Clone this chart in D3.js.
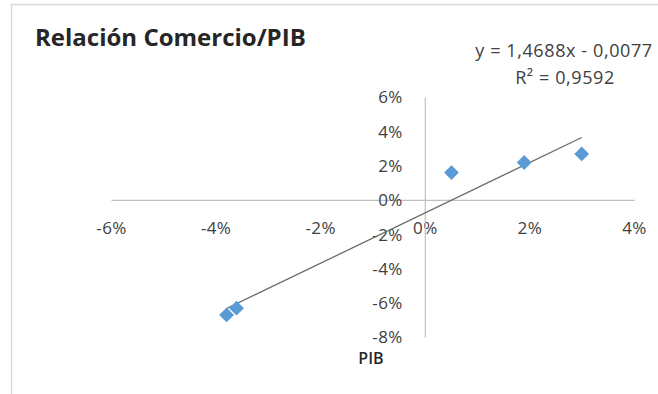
<!DOCTYPE html>
<html>
<head>
<meta charset="utf-8">
<script src="https://cdn.jsdelivr.net/npm/d3@7"></script>
<style>
  html, body { margin: 0; padding: 0; background: #fff; }
  svg { display: block; }
</style>
</head>
<body>
<svg id="chart" width="658" height="394"></svg>
<script>
// PIB growth (x) vs. trade growth (y)
const pib      = [-0.0379, -0.0360, 0.0051, 0.0190, 0.0300];
const comercio = [-0.0671, -0.0632, 0.0159, 0.0218, 0.0268];

// Linear trend as reported
const slope = 1.4688;
const intercept = -0.0077;
const r2 = 0.9592;

const xTicks = [-0.06, -0.04, -0.02, 0, 0.02, 0.04];
const yTicks = [-0.08, -0.06, -0.04, -0.02, 0, 0.02, 0.04, 0.06];

const title = "Relación Comercio/PIB";
const xTitle = "PIB";

const svg = d3.select("#chart");
const font = "'Open Sans', 'DejaVu Sans', sans-serif";

// chart area frame
svg.append("rect")
  .attr("x", 11.5).attr("y", 4.5)
  .attr("width", 700).attr("height", 450)
  .attr("fill", "#fff")
  .attr("stroke", "#d9d9d9").attr("stroke-width", 1.5);

const x = d3.scaleLinear().domain([-0.06, 0.04]).range([111, 634]);
const y = d3.scaleLinear().domain([-0.08, 0.06]).range([337, 97]);
// percent labels with a plain hyphen for negatives
const pct = v => `${Math.round(v * 100)}%`;

// axes crossing at zero
const xAxis = svg.append("g")
  .attr("transform", `translate(0,${y(0)})`)
  .call(d3.axisBottom(x).tickValues(xTicks).tickFormat(pct).tickSize(0).tickPadding(22));
const yAxis = svg.append("g")
  .attr("transform", `translate(${x(0)},0)`)
  .call(d3.axisLeft(y).tickValues(yTicks).tickFormat(pct).tickSize(0).tickPadding(22));

[xAxis, yAxis].forEach(g => {
  g.select(".domain").attr("stroke", "#bfbfbf").attr("stroke-width", 1.2);
  g.selectAll("text")
    .attr("font-family", font).attr("font-size", 17)
    .attr("letter-spacing", 0.4)
    .attr("fill", "#404040");
});
yAxis.selectAll("text").attr("dy", "0.35em");

// trendline across the data range
const xr = d3.extent(pib);
svg.append("line")
  .attr("x1", x(xr[0])).attr("y1", y(slope * xr[0] + intercept))
  .attr("x2", x(xr[1])).attr("y2", y(slope * xr[1] + intercept))
  .attr("stroke", "#6b6b6b").attr("stroke-width", 1.3);

// data markers
const diamond = d3.symbol().type(d3.symbolSquare).size(110);
svg.append("g").selectAll("path")
  .data(d3.zip(pib, comercio))
  .join("path")
  .attr("d", diamond)
  .attr("transform", d => `translate(${x(d[0])},${y(d[1])}) rotate(45)`)
  .attr("fill", "#5b9bd5");

// title
svg.append("text")
  .attr("x", 35).attr("y", 46)
  .attr("font-family", font).attr("font-size", 24).attr("font-weight", 700)
  .attr("fill", "#262626")
  .text(title);

// trendline label
const eqFmt = v => v.toFixed(4).replace(".", ",");
const eq = svg.append("g").attr("font-family", font).attr("font-size", 18)
  .attr("letter-spacing", 0.6)
  .attr("fill", "#404040").attr("text-anchor", "middle");
eq.append("text").attr("x", 564).attr("y", 57)
  .text(`y = ${eqFmt(slope)}x - ${eqFmt(-intercept)}`);
eq.append("text").attr("x", 565).attr("y", 84)
  .text(`R² = ${eqFmt(r2)}`);

// x-axis title
svg.append("text")
  .attr("x", 371).attr("y", 364)
  .attr("text-anchor", "middle")
  .attr("font-family", font).attr("font-size", 16).attr("font-weight", 600)
  .attr("fill", "#262626")
  .text(xTitle);
</script>
</body>
</html>
